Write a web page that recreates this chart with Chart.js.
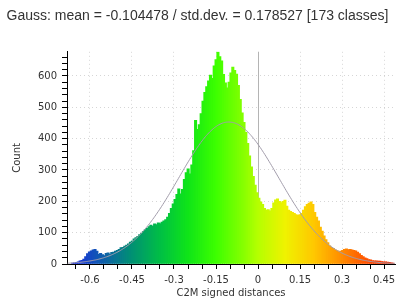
<!DOCTYPE html>
<html>
<head>
<meta charset="utf-8">
<script src="https://cdn.jsdelivr.net/npm/chart.js@4"></script>
<style>
html,body{margin:0;padding:0;background:#fff}
</style>
</head>
<body>
<canvas id="graph" width="406" height="299"></canvas>
<script>

// histogram: 173 classes
let binStart=-0.665
let binWidth=0.006647
let counts=[
3,4,5,7,10,12,16,24,33,39,42,45,47,41,31,34,30,27,34,36,
32,37,38,41,44,47,52,53,57,60,64,70,73,80,84,88,94,98,104,110,
114,119,124,121,128,126,131,129,134,138,142,150,162,178,192,206,222,240,224,238,
270,292,304,288,316,362,458,430,445,480,520,548,566,584,603,592,632,652,677,662,
648,605,578,562,580,610,628,618,606,570,525,482,452,420,385,345,310,280,252,228,
210,198,190,178,172,174,170,178,195,205,208,200,196,200,204,185,172,168,165,162,
158,155,158,162,172,183,190,194,198,190,165,150,138,118,105,90,78,68,58,53,
50,45,43,40,41,44,47,48,46,47,45,44,42,38,33,28,24,20,17,14,
13,11,10,10,9,9,8,7,7,6,5,4,3
]

// gauss fit from the title
let gaussMean=-0.104478
let gaussStd=0.178527
let gaussPeak=453

let xTicks=[-0.65,-0.6,-0.55,-0.5,-0.45,-0.4,-0.35,-0.3,-0.25,-0.2,-0.15,-0.1,-0.05,0,0.05,0.1,0.15,0.2,0.25,0.3,0.35,0.4,0.45]
let xLabels=[-0.6,-0.45,-0.3,-0.15,0,0.15,0.3,0.45]
let yTicks=[]
for(let v=0;v<=660;v+=20) yTicks.push(v)
let yLabels=[0,100,200,300,400,500,600]

let titleText="Gauss: mean = -0.104478 / std.dev. = 0.178527 [173 classes]"

// colour scale blue > green > yellow > red
let stops=[
[-0.66,[25,45,225]],
[-0.55,[15,95,170]],
[-0.45,[0,145,115]],
[-0.35,[0,190,70]],
[-0.25,[15,228,25]],
[-0.15,[60,255,0]],
[-0.05,[135,255,0]],
[0.0,[180,255,0]],
[0.1,[240,242,0]],
[0.2,[255,200,0]],
[0.3,[255,140,0]],
[0.4,[255,75,0]],
[0.49,[240,35,0]]
]

function colorAt(v){
if(v<=stops[0][0]) return "rgb("+stops[0][1].join(",")+")"
for(let i=1;i<stops.length;i++){
if(v<=stops[i][0]){
let a=stops[i-1],b=stops[i]
let t=(v-a[0])/(b[0]-a[0])
let c=a[1].map((q,k)=>Math.round(q+(b[1][k]-q)*t))
return "rgb("+c.join(",")+")"
}
}
return "rgb("+stops[stops.length-1][1].join(",")+")"
}

let bars=counts.map((c,i)=>({x:binStart+(i+0.5)*binWidth,y:c}))
let barColors=bars.map(p=>colorAt(p.x))

let gauss=[]
for(let x=-0.68;x<=0.49;x+=0.004){
let z=(x-gaussMean)/gaussStd
gauss.push({x:x,y:gaussPeak*Math.exp(-0.5*z*z)})
}

function near(v,list){
return list.some(q=>Math.abs(q-v)<1e-6)
}

let zeroLine={
id:"zeroLine",
beforeDatasetsDraw(chart){
let {ctx,chartArea,scales}=chart
let px=Math.round(scales.x.getPixelForValue(0))+0.5
ctx.save()
ctx.strokeStyle="#b4b4b4"
ctx.lineWidth=1
ctx.beginPath()
ctx.moveTo(px,chartArea.top)
ctx.lineTo(px,chartArea.bottom)
ctx.stroke()
ctx.restore()
}
}

let tickFont={family:"DejaVu Sans",size:10}

new Chart(document.getElementById("graph"),{
type:"bar",
data:{
datasets:[
{
type:"line",
data:gauss,
borderColor:"#a29dab",
borderWidth:1,
pointRadius:0,
fill:false,
order:0
},
{
type:"bar",
data:bars,
backgroundColor:barColors,
borderWidth:0,
barThickness:2.4,
order:1
}
]
},
options:{
responsive:false,
animation:false,
devicePixelRatio:1,
layout:{padding:{left:0,right:11,top:0,bottom:0}},
plugins:{
legend:{display:false},
tooltip:{enabled:false},
title:{
display:true,
text:titleText,
color:"#333",
font:{family:"Liberation Sans",size:14,weight:"normal"},
padding:{top:8,bottom:27}
}
},
scales:{
x:{
type:"linear",
min:-0.682,
max:0.489,
offset:false,
afterBuildTicks:s=>{s.ticks=xTicks.map(v=>({value:v}))},
afterFit:s=>{s.height=35},
ticks:{
autoSkip:false,
maxRotation:0,
padding:5,
color:"#333",
font:tickFont,
callback:v=>near(v,xLabels)?String(v):""
},
grid:{
offset:false,
tickLength:5,
tickColor:"#000",
color:c=>c.tick&&near(c.tick.value,xLabels)?"rgba(0,0,0,0.16)":"rgba(0,0,0,0)"
},
border:{display:true,color:"#000",width:1,dash:[1,3]},
title:{
display:true,
text:"C2M signed distances",
color:"#333",
font:{family:"DejaVu Sans",size:10},
padding:{top:0,bottom:0}
}
},
y:{
min:0,
max:677,
afterBuildTicks:s=>{s.ticks=yTicks.map(v=>({value:v}))},
afterFit:s=>{s.width=67},
ticks:{
autoSkip:false,
padding:5,
color:"#333",
font:tickFont,
callback:v=>near(v,yLabels)?String(v):""
},
grid:{
tickLength:5,
tickColor:"#000",
color:c=>c.tick&&near(c.tick.value,yLabels)&&c.tick.value>0?"rgba(0,0,0,0.16)":"rgba(0,0,0,0)"
},
border:{display:true,color:"#000",width:1,dash:[1,3]},
title:{
display:true,
text:"Count",
color:"#333",
font:{family:"DejaVu Sans",size:10},
padding:{top:11,bottom:0}
}
}
}
},
plugins:[zeroLine]
})

</script>
</body>
</html>
